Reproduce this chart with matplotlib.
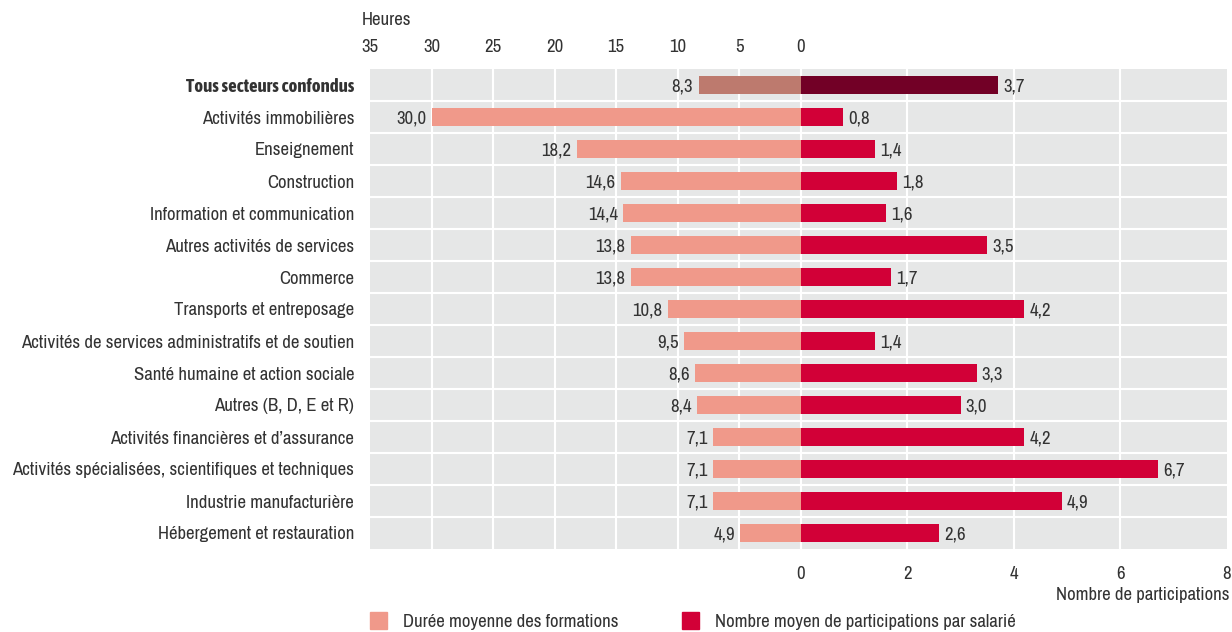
import numpy as np
import matplotlib
matplotlib.use('Agg')
import matplotlib.pyplot as plt
from matplotlib.patches import Patch
from matplotlib import font_manager

# police condensée si disponible (de préférence avec une graisse grasse)
familles = {}
for f in font_manager.fontManager.ttflist:
    if 'Narrow' in f.name or 'Condensed' in f.name:
        w = f.weight if isinstance(f.weight, int) else (700 if 'bold' in str(f.weight) else 400)
        familles.setdefault(f.name, set()).add(w)
police = 'Roboto'
police_gras = 'Roboto'
if familles:
    noms = sorted(familles)
    reguliers = [n for n in noms if 400 in familles[n]] or noms
    police = reguliers[0]
    gras = [n for n in noms if max(familles[n]) >= 700]
    police_gras = police if max(familles[police]) >= 700 else (gras[0] if gras else police)

plt.rcParams['font.family'] = [police, 'DejaVu Sans']
plt.rcParams['text.color'] = '#333333'
plt.rcParams['xtick.color'] = '#333333'
plt.rcParams['ytick.color'] = '#333333'

# Données
secteurs = [
    'Tous secteurs confondus',
    'Activités immobilières',
    'Enseignement',
    'Construction',
    'Information et communication',
    'Autres activités de services',
    'Commerce',
    'Transports et entreposage',
    'Activités de services administratifs et de soutien',
    'Santé humaine et action sociale',
    'Autres (B, D, E et R)',
    'Activités financières et d\u2019assurance',
    'Activités spécialisées, scientifiques et techniques',
    'Industrie manufacturière',
    'Hébergement et restauration',
]
heures = [8.3, 30.0, 18.2, 14.6, 14.4, 13.8, 13.8, 10.8, 9.5, 8.6, 8.4, 7.1, 7.1, 7.1, 4.9]
participations = [3.7, 0.8, 1.4, 1.8, 1.6, 3.5, 1.7, 4.2, 1.4, 3.3, 3.0, 4.2, 6.7, 4.9, 2.6]
ticks_heures = [0, 5, 10, 15, 20, 25, 30, 35]
ticks_part = [0, 2, 4, 6, 8]

# conversion heures -> unités de l'axe (participations)
k = 8.08 / 35
fs = 13.5

def fmt(v):
    return f'{v:.1f}'.replace('.', ',')

n = len(secteurs)
y = np.arange(n)
col_h = ['#bd7a6e'] + ['#f0998a'] * (n - 1)
col_p = ['#720026'] + ['#d20037'] * (n - 1)

fig = plt.figure(figsize=(12.32, 6.32), dpi=100)
ax = fig.add_axes([370 / 1232, 1 - 549 / 632, 857 / 1232, 480 / 632])
ax.set_facecolor('#e6e7e7')

ax.barh(y, -np.array(heures) * k, height=0.55, color=col_h, zorder=3)
ax.barh(y, participations, height=0.55, color=col_p, zorder=3)

# grille blanche
for h in ticks_heures[1:-1]:
    ax.axvline(-h * k, color='white', lw=1.5, zorder=1)
for p in ticks_part[:-1]:
    ax.axvline(p, color='white', lw=1.5, zorder=1)
for i in range(n - 1):
    ax.axhline(i + 0.5, color='white', lw=1.5, zorder=1)

# étiquettes de valeurs
for i in range(n):
    ax.text(-heures[i] * k - 0.1, i + 0.05, fmt(heures[i]), ha='right', va='center', fontsize=fs)
    ax.text(participations[i] + 0.1, i + 0.05, fmt(participations[i]), ha='left', va='center', fontsize=fs)

ax.set_xlim(-35 * k, 8)
ax.set_ylim(n - 0.5, -0.5)
ax.set_yticks(y, secteurs, fontsize=fs)
lab0 = ax.get_yticklabels()[0]
lab0.set_fontfamily([police_gras, 'DejaVu Sans'])
lab0.set_fontweight('bold')
ax.set_xticks(ticks_part)
ax.tick_params(axis='y', left=False, pad=8, labelsize=fs)
ax.tick_params(axis='x', bottom=False, pad=9, labelsize=fs)
for s in ax.spines.values():
    s.set_visible(False)

secax = ax.secondary_xaxis('top', functions=(lambda x: -x / k, lambda h: -h * k))
secax.set_xticks(ticks_heures)
secax.tick_params(top=False, pad=6.5, labelsize=fs)
for s in secax.spines.values():
    s.set_visible(False)

fig.text(362 / 1232, 1 - 20 / 632, 'Heures', ha='left', va='center', fontsize=fs)
fig.text(1229 / 1232, 1 - 595 / 632, 'Nombre de participations', ha='right', va='center', fontsize=fs)

handles = [Patch(color='#f0998a'), Patch(color='#d20037')]
fig.legend(handles, ['Durée moyenne des formations', 'Nombre moyen de participations par salarié'],
           loc='center left', bbox_to_anchor=(353 / 1232, 1 - 621 / 632), ncol=2, frameon=False,
           fontsize=fs, handlelength=0.9, handleheight=1.0, handletextpad=0.85, columnspacing=3.42)

fig.savefig('out.png', dpi=100)
